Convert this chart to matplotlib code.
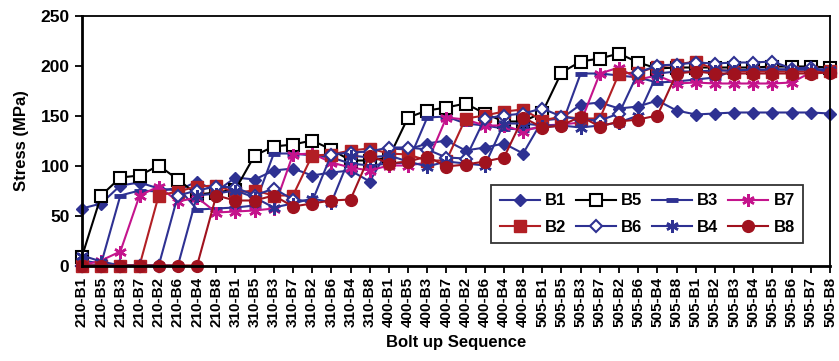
import numpy as np
import matplotlib
matplotlib.use("Agg")
from matplotlib import pyplot as plt

plt.rcParams['font.family'] = ['Liberation Sans', 'DejaVu Sans']
plt.rcParams['font.weight'] = 'bold'

# bolt up sequence (x categories)
seq = ["210-B1", "210-B5", "210-B3", "210-B7", "210-B2", "210-B6", "210-B4", "210-B8",
       "310-B1", "310-B5", "310-B3", "310-B7", "310-B2", "310-B6", "310-B4", "310-B8",
       "400-B1", "400-B5", "400-B3", "400-B7", "400-B2", "400-B6", "400-B4", "400-B8",
       "505-B1", "505-B5", "505-B3", "505-B7", "505-B2", "505-B6", "505-B4", "505-B8",
       "505-B1", "505-B2", "505-B3", "505-B4", "505-B5", "505-B6", "505-B7", "505-B8"]

# stress per bolt [MPa]
b1 = [57, 62, 80, 83, 77, 75, 84, 74, 88, 86, 95, 97, 90, 93, 95, 84,
      117, 116, 122, 125, 115, 118, 122, 112, 145, 147, 161, 163, 157, 159, 165, 155,
      151, 152, 153, 153, 153, 153, 153, 152]
b5 = [9, 70, 88, 90, 100, 86, 71, 73, 76, 110, 119, 121, 125, 116, 105, 105,
      108, 148, 155, 158, 162, 152, 144, 144, 153, 193, 204, 207, 212, 203, 197, 198,
      198, 198, 198, 198, 199, 199, 199, 198]
b3 = [5, 2, 70, 75, 74, 78, 56, 57, 58, 60, 112, 112, 110, 108, 102, 100,
      102, 103, 148, 149, 142, 140, 137, 136, 138, 140, 192, 192, 190, 188, 183, 184,
      186, 188, 195, 195, 196, 196, 196, 196]
b7 = [0, 5, 14, 70, 79, 64, 68, 53, 54, 55, 57, 111, 112, 103, 98, 95,
      100, 100, 103, 148, 146, 140, 140, 134, 140, 141, 143, 192, 198, 186, 190, 182,
      183, 182, 182, 182, 182, 183, 193, 195]
b2 = [0, 0, 0, 0, 70, 74, 79, 80, 73, 75, 70, 70, 110, 111, 115, 117,
      112, 111, 105, 105, 147, 150, 154, 156, 145, 149, 147, 147, 192, 193, 199, 201,
      204, 196, 194, 194, 194, 194, 194, 195]
b6 = [0, 0, 0, 0, 0, 70, 75, 79, 78, 70, 77, 66, 64, 111, 113, 114,
      118, 118, 116, 108, 107, 147, 150, 152, 157, 149, 146, 145, 152, 193, 200, 201,
      203, 202, 203, 203, 204, 197, 198, 193]
b4 = [10, 4, 0, 0, 0, 0, 70, 72, 75, 68, 58, 62, 67, 63, 110, 108,
      110, 104, 99, 104, 102, 100, 142, 142, 140, 140, 138, 140, 143, 150, 192, 194,
      194, 195, 195, 196, 196, 196, 196, 196]
b8 = [0, 0, 0, 0, 0, 0, 0, 70, 65, 65, 70, 59, 62, 65, 66, 110,
      102, 104, 109, 99, 101, 104, 108, 148, 138, 140, 149, 139, 144, 146, 150, 192,
      194, 192, 192, 192, 192, 192, 192, 193]

navy = '#2E3192'
red = '#B21F24'
dred = '#A0121E'
mag = '#C4148C'

styles = [
    ("B1", b1, dict(color=navy, marker='D', ms=6.5, mfc=navy, mec=navy)),
    ("B5", b5, dict(color='black', marker='s', ms=8, mfc='white', mec='black', mew=1.5)),
    ("B3", b3, dict(color=navy, marker='_', ms=8, mew=3.5, mec=navy)),
    ("B7", b7, dict(color=mag, marker='*')),
    ("B2", b2, dict(color=red, marker='s', ms=8, mfc=red, mec=red)),
    ("B6", b6, dict(color=navy, marker='D', ms=6.5, mfc='white', mec=navy, mew=1.5)),
    ("B4", b4, dict(color=navy, marker='*')),
    ("B8", b8, dict(color=dred, marker='o', ms=8.5, mfc=dred, mec=dred)),
]

fig = plt.figure(figsize=(8.39, 3.61), dpi=100)
ax = fig.add_axes([82 / 839, 1 - 265.5 / 361, 748 / 839, 250 / 361])

x = np.arange(len(seq))
lines = {}
for name, vals, st in styles:
    if st['marker'] == '*':
        # asterisk marker drawn as 6-spoke star
        col = st['color']
        ln, = ax.plot(x, vals, color=col, lw=1.5, marker=(6, 2, 0), ms=9, mew=1.8,
                      mec=col, clip_on=False, label=name)
    else:
        ln, = ax.plot(x, vals, lw=1.5, clip_on=False, label=name, **st)
    lines[name] = ln

ax.set_xlim(0, len(seq) - 1)
ax.set_ylim(0, 250)
ax.set_yticks(np.arange(0, 251, 50))
ax.set_xticks(x)
ax.set_xticklabels(seq, rotation=90, fontsize=11, fontweight='bold')
ax.tick_params(axis='y', labelsize=12.5, direction='out', length=5, width=1.3, pad=4)
ax.tick_params(axis='x', direction='out', length=5, width=1.3, pad=3)
for s in ax.spines.values():
    s.set_linewidth(1.3)
ax.spines['left'].set_linewidth(2)
ax.spines['bottom'].set_linewidth(2)

ax.set_ylabel("Stress (MPa)", fontsize=12, fontweight='bold', labelpad=8)
ax.set_xlabel("Bolt up Sequence", fontsize=12, fontweight='bold', labelpad=6)

order = ["B1", "B2", "B5", "B6", "B3", "B4", "B7", "B8"]
leg = ax.legend([lines[n] for n in order], order, ncol=4, loc='lower right',
                bbox_to_anchor=(0.975, 0.055), fontsize=12, frameon=True,
                fancybox=False, edgecolor='black', handlelength=2.4,
                handletextpad=0.3, columnspacing=0.6, borderpad=0.5,
                labelspacing=0.7)
leg.get_frame().set_linewidth(1.3)
for t in leg.get_texts():
    t.set_fontweight('bold')

fig.savefig("out.png", dpi=100)
